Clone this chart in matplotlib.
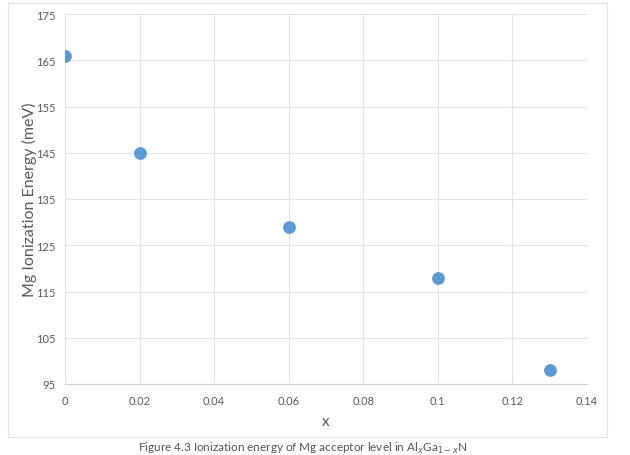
import matplotlib
matplotlib.use("Agg")
import matplotlib.pyplot as plt
from matplotlib.patches import Rectangle

x_vals = [0.0, 0.02, 0.06, 0.10, 0.13]
energy = [166, 145, 129, 118, 98]
x_ticks = [0, 0.02, 0.04, 0.06, 0.08, 0.1, 0.12, 0.14]
x_tick_labels = ["0", "0.02", "0.04", "0.06", "0.08", "0.1", "0.12", "0.14"]
y_ticks = [95, 105, 115, 125, 135, 145, 155, 165, 175]

plt.rcParams['font.family'] = ['Lato', 'DejaVu Sans']

W, H = 630, 456
fig = plt.figure(figsize=(W / 100, H / 100), dpi=100)
fig.patch.set_facecolor('white')

# outer chart border
fig.add_artist(Rectangle((8 / W, 1 - 438 / H), (607 - 8) / W, (438 - 4) / H,
                         transform=fig.transFigure, facecolor='white',
                         edgecolor='#e6e6e6', linewidth=1.0, zorder=0))

ax = fig.add_axes([65 / W, 1 - 385 / H, (587 - 65) / W, (385 - 15) / H])
ax.set_facecolor('white')
ax.scatter(x_vals, energy, s=85, color='#5b9bd5', zorder=3, linewidths=0)

ax.set_xlim(0, 0.14)
ax.set_ylim(95, 175)
ax.set_xticks(x_ticks)
ax.set_xticklabels(x_tick_labels)
ax.set_yticks(y_ticks)
ax.grid(True, color='#e3e3e3', linewidth=0.8)
ax.set_axisbelow(True)
for side in ['top', 'right', 'left']:
    ax.spines[side].set_visible(False)
ax.spines['bottom'].set_color('#d0d0d0')
ax.tick_params(axis='both', length=0, labelsize=8, labelcolor='#595959')
ax.tick_params(axis='x', pad=8)
ax.tick_params(axis='y', pad=7)

ax.set_xlabel('x', fontsize=11, color='#595959', labelpad=6)
ax.set_ylabel('Mg Ionization Energy (meV)', fontsize=11.5, color='#595959')
ax.yaxis.set_label_coords(-0.053, 0.5)

fig.text(0.48, 1 - 441 / H, 'Figure 4.3 Ionization energy of Mg acceptor level in Al$_x$Ga$_{1-x}$N',
         ha='center', va='top', fontsize=8.5, color='#555555')

fig.savefig('out.png', dpi=100, facecolor='white')
